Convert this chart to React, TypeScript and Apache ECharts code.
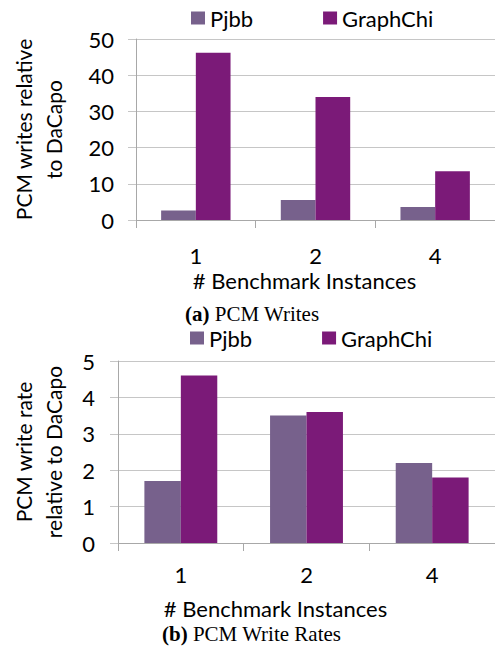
import React, { useEffect, useRef } from "react";
import * as echarts from "echarts";

const categories = ["1", "2", "4"];
const seriesNames = ["Pjbb", "GraphChi"];
const writesPjbb = [2.6, 5.5, 3.6];
const writesGraphChi = [46.2, 34.0, 13.5];
const ratePjbb = [1.7, 3.5, 2.2];
const rateGraphChi = [4.6, 3.6, 1.8];
const writesTicks = { min: 0, max: 50, interval: 10 };
const rateTicks = { min: 0, max: 5, interval: 1 };

const PJBB = "#77618C";
const GCHI = "#7B1A78";
const FONT = "Lato";
const GRID_LINE = "#C6C6C6";
const AXIS_LINE = "#A8A8A8";

export default function App() {
  const ref = useRef<HTMLDivElement>(null);
  useEffect(() => {
    if (!ref.current) return;
    const chart = echarts.init(ref.current, null, { renderer: "svg" });
    const catAxis = (gridIndex: number, margin: number, nameGap: number, namePad: number) => ({
      type: "category",
      gridIndex,
      data: categories,
      axisLine: { show: true, lineStyle: { color: AXIS_LINE, width: 1 } },
      axisTick: { show: true, length: 8, lineStyle: { color: AXIS_LINE } },
      axisLabel: { color: "#000", fontFamily: FONT, fontSize: 22, lineHeight: 22, margin },
      name: "# Benchmark Instances",
      nameLocation: "middle",
      nameGap,
      nameTextStyle: {
        color: "#000",
        fontFamily: FONT,
        fontSize: 22,
        lineHeight: 22,
        padding: [0, namePad, 0, 0],
      },
    });
    const valAxis = (gridIndex: number, ticks: any, name: string, nameGap: number, margin: number) => ({
      type: "value",
      gridIndex,
      min: ticks.min,
      max: ticks.max,
      interval: ticks.interval,
      axisLine: { show: true, lineStyle: { color: AXIS_LINE, width: 1 } },
      axisTick: { show: true, length: 8, lineStyle: { color: GRID_LINE } },
      splitLine: { show: true, lineStyle: { color: GRID_LINE, width: 1 } },
      axisLabel: { color: "#000", fontFamily: FONT, fontSize: 22, margin },
      name,
      nameLocation: "middle",
      nameRotate: 90,
      nameGap,
      nameTextStyle: { color: "#000", fontFamily: FONT, fontSize: 21, lineHeight: 30, align: "center" },
    });
    const legend = (top: number, left: number) => ({
      data: seriesNames,
      left,
      top,
      itemWidth: 14,
      itemHeight: 13,
      itemGap: 70,
      icon: "rect",
      textStyle: { color: "#000", fontFamily: FONT, fontSize: 22 },
    });
    const bar = (name: string, data: number[], idx: number, color: string, gap: string) => ({
      type: "bar",
      name,
      data,
      xAxisIndex: idx,
      yAxisIndex: idx,
      barGap: "0%",
      barCategoryGap: gap,
      itemStyle: { color },
    });
    const caption = (label: string, rest: string, left: number, top: number) => ({
      type: "text",
      left,
      top,
      style: {
        text: "{b|" + label + "} " + rest,
        fontFamily: "Liberation Serif",
        fontSize: 21,
        lineHeight: 18,
        fill: "#000",
        rich: { b: { fontWeight: "bold", fontFamily: "Liberation Serif", fontSize: 21, lineHeight: 18 } },
      },
    });
    chart.setOption({
      animation: false,
      backgroundColor: "#fff",
      legend: [legend(2, 186), legend(322, 185)],
      grid: [
        { left: 136, top: 39, width: 360, height: 181 },
        { left: 118, top: 361, width: 380, height: 182 },
      ],
      xAxis: [catAxis(0, 24, 49, 22), catAxis(1, 20, 54, 62)],
      yAxis: [
        valAxis(0, writesTicks, "PCM writes relative\nto DaCapo", 68, 22),
        valAxis(1, rateTicks, "PCM write rate\nrelative to DaCapo", 50, 23),
      ],
      series: [
        bar(seriesNames[0], writesPjbb, 0, PJBB, "42%"),
        bar(seriesNames[1], writesGraphChi, 0, GCHI, "42%"),
        bar(seriesNames[0], ratePjbb, 1, PJBB, "42%"),
        bar(seriesNames[1], rateGraphChi, 1, GCHI, "42%"),
      ],
      graphic: [
        caption("(a)", "PCM Writes", 185, 303),
        caption("(b)", "PCM Write Rates", 162, 623),
      ],
    });
    return () => chart.dispose();
  }, []);
  return (
    <div
      ref={ref}
      style={{ position: "absolute", left: 0, top: 0, width: 495, height: 649 }}
    />
  );
}
